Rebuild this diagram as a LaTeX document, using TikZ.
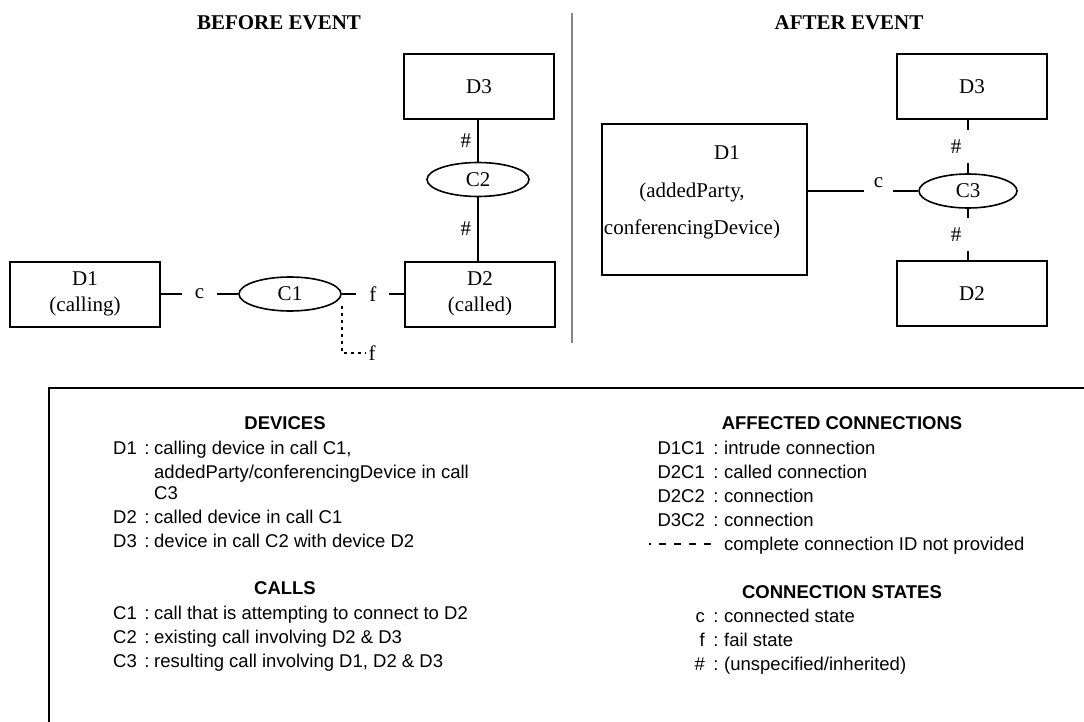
\documentclass[tikz,border=0pt]{standalone}
\usepackage{fontspec}
\setmainfont{Liberation Serif}
\setsansfont{Liberation Sans}
\usepackage{xcolor}
\usepackage{tikz}
\usetikzlibrary{shapes.geometric,calc}
\definecolor{RuleGrey}{HTML}{858585}
\newcommand\diagfont{\fontsize{21}{26}\selectfont}
\newcommand\legfont{\sffamily\fontsize{18.5}{22}\selectfont}

\begin{document}
\begin{tikzpicture}[x=1pt, y=-1pt, every node/.style={font=\diagfont},
    heading/.style={font=\diagfont\bfseries},
    device/.style={draw, line width=2pt, minimum width=150pt, minimum height=65pt,
      align=center, inner sep=0pt},
    callnode/.style={draw, ellipse, line width=1.6pt, minimum width=102pt,
      minimum height=34pt, inner sep=0pt},
    conn/.style={line width=2pt},
    gap/.style={fill=white, inner xsep=13pt, inner ysep=6pt},
    hashl/.style={left, inner xsep=6pt, inner ysep=0pt},
    hashgap/.style={fill=white, xshift=-12pt, inner xsep=8pt, inner ysep=9.5pt},
    failline/.style={line width=2pt, dash pattern=on 3pt off 4pt},
    divider/.style={RuleGrey, line width=2pt},
    frame/.style={line width=2pt},
    leghead/.style={font=\legfont\bfseries, anchor=base, inner sep=0pt},
    legkey/.style={font=\legfont, anchor=base east, inner sep=0pt},
    legcolon/.style={font=\legfont, anchor=base, inner sep=0pt},
    legtext/.style={font=\legfont, anchor=base west, inner sep=0pt},
    legdash/.style={line width=1.5pt, dash pattern=on 7pt off 8pt, dash phase=5pt}]
  \useasboundingbox (0,0) rectangle (1084,722);

  % headings and divider
  \node[heading] (before) at (279,23) {BEFORE EVENT};
  \node[heading] (after) at (849,23) {AFTER EVENT};
  \draw[divider] (572,13) -- (572,343);

  % before event
  \node[device] (d1b) at (85,294) {D1\\(calling)};
  \node[callnode] (c1b) at (290,294) {C1};
  \node[device] (d2b) at (480,294) {D2\\(called)};
  \node[callnode] (c2b) at (478,179.5) {C2};
  \node[device] (d3b) at (479,86.5) {D3};
  \node (fb) at (372,353) {f};
  \draw[conn] (d1b) -- node[gap] {c} (c1b);
  \draw[conn] (c1b) -- node[gap] {f} (d2b);
  \draw[conn] (c2b.north) -- node[hashl] {\#} (c2b.north |- d3b.south);
  \draw[conn] (c2b.south) -- node[hashl] {\#} (c2b.south |- d2b.north);
  \draw[failline] ([yshift=-12pt]c1b.east) |- (fb.west);

  % after event
  \node[device, minimum width=205pt, minimum height=151pt] (d1a) at (704.5,199.5) {};
  \node[align=center, font=\fontsize{21}{37.5}\selectfont] (d1atext) at (692,192.5)
    {\hspace*{70pt}D1\\(addedParty,\\conferencingDevice)};
  \node[device] (d3a) at (972,87) {D3};
  \node[callnode, minimum width=98pt] (c3a) at (968,191) {C3};
  \node[device] (d2a) at (972,293.5) {D2};
  \draw[conn] (d1a.east |- c3a.west) -- node[gap, pos=0.64, inner xsep=9.5pt,
    inner ysep=8pt, yshift=8pt] {c} (c3a.west);
  \draw[conn] (c3a.north) -- node[hashgap] {\#} (c3a.north |- d3a.south);
  \draw[conn] (c3a.south) -- node[hashgap] {\#} (c3a.south |- d2a.north);

  % legend
  \draw[frame] (49,760) |- (1120,388);
  \node[leghead] (devhead) at (285,429.5) {DEVICES};
  \node[leghead] (callhead) at (285,594.5) {CALLS};
  \node[leghead] (connhead) at (842,429.5) {AFFECTED CONNECTIONS};
  \node[leghead] (statehead) at (842,598.5) {CONNECTION STATES};

  \foreach \k/\v/\yy [count=\n] in {
    D1/{calling device in call C1,}/448,
    D2/{called device in call C1}/517,
    D3/{device in call C2 with device D2}/541,
    C1/{call that is attempting to connect to D2}/613,
    C2/{existing call involving D2 \& D3}/637,
    C3/{resulting call involving D1, D2 \& D3}/661%
    }{
    \node[legkey] (lk\n) at (137,\yy+6.5) {\k};
    \node[legcolon] (lc\n) at (147,\yy+6.5) {:};
    \node[legtext] (lt\n) at (154,\yy+6.5) {\v};
    }
  \node[legtext] (lcont1) at (154,478.5) {addedParty/conferencingDevice in call};
  \node[legtext] (lcont2) at (154,499.5) {C3};

  \foreach \k/\v/\yy [count=\n] in {
    D1C1/{intrude connection}/448,
    D2C1/{called connection}/472,
    D2C2/{connection}/496,
    D3C2/{connection}/520,
    c/{connected state}/616,
    f/{fail state}/640,
    \#/{(unspecified/inherited)}/664%
    }{
    \node[legkey] (rk\n) at (705,\yy+6.5) {\k};
    \node[legcolon] (rc\n) at (716,\yy+6.5) {:};
    \node[legtext] (rt\n) at (724,\yy+6.5) {\v};
    }
  \coordinate (dashl) at (649,544);
  \coordinate (dashr) at (715,544);
  \draw[legdash] (dashl) -- (dashr);
  \node[legtext] (rdash) at (724,550.5) {complete connection ID not provided};
\end{tikzpicture}
\end{document}
